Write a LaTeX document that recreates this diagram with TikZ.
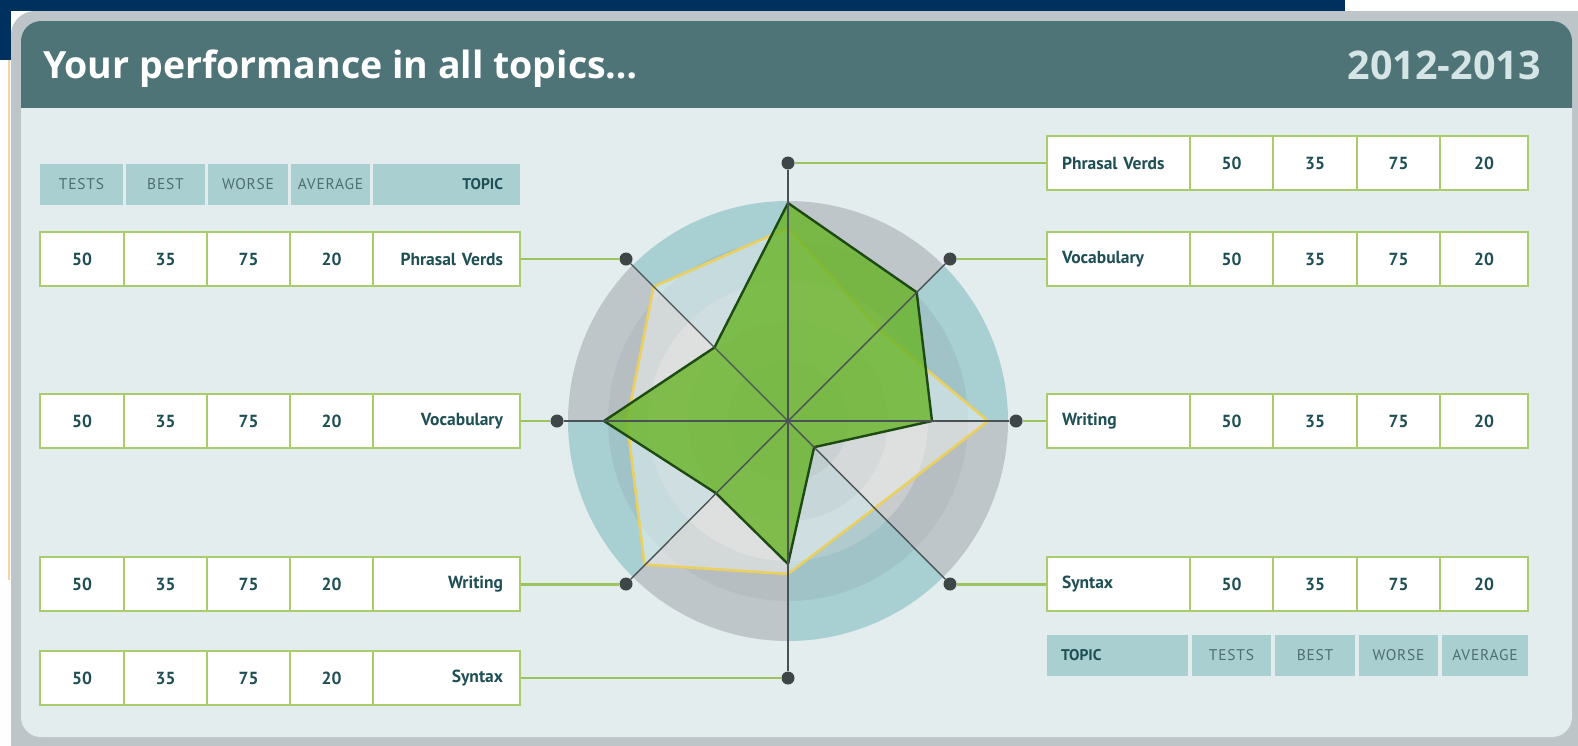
\documentclass[tikz,border=0pt]{standalone}
\usepackage{fontspec}
\setmainfont{PT Sans}
\newfontfamily\bannerfont{Open Sans}
\newfontfamily\spacedfont[LetterSpace=5]{PT Sans}
\definecolor{navy}{HTML}{00305E}
\definecolor{peach}{HTML}{F3D2A4}
\definecolor{framegray}{HTML}{BDC5C8}
\definecolor{panel}{HTML}{E4EDED}
\definecolor{headbar}{HTML}{4F7478}
\definecolor{yeartxt}{HTML}{D5E4E4}
\definecolor{headfill}{HTML}{A9CFD0}
\definecolor{headtxt}{HTML}{4E6F72}
\definecolor{darkteal}{HTML}{1E4F54}
\definecolor{cellline}{HTML}{A9CC6C}
\definecolor{linkgreen}{HTML}{9CC45C}
\definecolor{axisgray}{HTML}{4A5254}
\definecolor{ringAa}{HTML}{A8CFD2}
\definecolor{ringBa}{HTML}{BFC6C9}
\definecolor{ringAb}{HTML}{A0C3C7}
\definecolor{ringBb}{HTML}{B6BEC1}
\definecolor{ringAc}{HTML}{B0CACD}
\definecolor{ringBc}{HTML}{C8CCCC}
\definecolor{ringAd}{HTML}{A2BBBF}
\definecolor{ringBd}{HTML}{B9C1C2}
\definecolor{ringAe}{HTML}{97AEB2}
\definecolor{ringBe}{HTML}{A8B3B5}
\definecolor{scorefill}{RGB}{104,180,38}
\definecolor{scoreedge}{HTML}{1D4A12}
\definecolor{avgedge}{HTML}{E9D060}
\tikzset{
  banner/.style={inner sep=0pt, font=\bannerfont\bfseries\fontsize{37.5}{40}\selectfont},
  cell/.style={draw=cellline, line width=1.5pt, fill=white, minimum height=54pt, inner sep=0pt,
    text=darkteal, font=\bfseries\fontsize{17.5}{18}\selectfont},
  headcell/.style={fill=headfill, minimum height=41pt, inner sep=0pt, text=headtxt,
    font=\spacedfont\fontsize{15.5}{16}\selectfont},
  topichead/.style={text=darkteal, font=\bfseries\fontsize{15.5}{16}\selectfont},
  link/.style={linkgreen, line width=1.6pt},
  axis/.style={axisgray, line width=1.4pt},
  dot/.style={circle, fill=axisgray!85!black, inner sep=0pt, minimum size=13pt},
  score/.style={fill=scorefill, fill opacity=0.8, draw=scoreedge, line width=2.4pt, line join=round},
  average/.style={fill=white, fill opacity=0.4, draw=avgedge, line width=2.6pt, line join=round}
}
\begin{document}
\begin{tikzpicture}[x=1pt,y=-1pt]
\path[use as bounding box] (0,0) rectangle (1578,745);
\clip (0,0) rectangle (1578,745);
\fill[white] (0,0) rectangle (1578,745);
\fill[navy] (0,0) rectangle (1345,11);
\fill[navy] (0,0) rectangle (11,60);
\draw[peach, line width=2.5pt] (9,60) -- (9,580);
\fill[framegray, rounded corners=24pt] (11,11) rectangle (1600,770);
\fill[panel, rounded corners=20pt] (21,21) rectangle (1572,737);
\fill[headbar, rounded corners=20pt] (21,21) rectangle (1572,130);
\fill[panel] (21,108) rectangle (1572,140);
\node[banner, anchor=base west, text=white] (title) at (43,78) {Your performance in all topics…};
\node[banner, anchor=base east, text=yeartxt, font=\bannerfont\bfseries\fontsize{39.5}{42}\selectfont] (year) at (1541,79) {2012-2013};

\begin{scope}[shift={(788,421)}, y=1pt]
  \coordinate (ctr) at (0,0);
  \foreach \r/\ca/\cb in {220/ringAa/ringBa, 180/ringAb/ringBb, 140/ringAc/ringBc, 100/ringAd/ringBd, 60/ringAe/ringBe}
    \foreach \a in {0,90,180,270} {
      \fill[\ca] (0,0) -- (\a:\r) arc[start angle=\a, end angle=\a+45, radius=\r] -- cycle;
      \fill[\cb] (0,0) -- ({\a+45}:\r) arc[start angle=\a+45, end angle=\a+90, radius=\r] -- cycle;
    }
  \filldraw[average] (90:193) -- (45:129) -- (0:200) -- (-45:123) -- (-90:153) -- (-135:203) -- (180:161) -- (135:190) -- cycle;
  \filldraw[score] (90:218) -- (45:182) -- (0:144) -- (-45:37) -- (-90:143) -- (-135:102) -- (180:184) -- (135:104) -- cycle;
\end{scope}

\foreach \n/\x/\y in {dT/788/163, dUR/950/259, dR/1016/421, dLR/950/584, dB/788/678, dLL/626/584, dL/557/421, dUL/626/259}
  \node[dot] (\n) at (\x,\y) {};
\foreach \n in {dT, dUR, dR, dLR, dB, dLL, dL, dUL}
  \draw[axis] (ctr) -- (\n);

\foreach \x/\w/\t [count=\i] in {81.5/83/TESTS, 165.5/79/BEST, 248/80/WORSE, 330.5/79/AVERAGE}
  \node[headcell, minimum width=\w pt] (LH\i) at (\x,184) {\t};
\node[headcell, topichead, minimum width=147pt, text width=113pt, align=right] (LHt) at (446.5,184) {TOPIC};

\foreach \r/\y/\t in {1/259/Phrasal Verds, 2/421/Vocabulary, 3/584/Writing, 4/678/Syntax} {
  \foreach \x/\w/\v [count=\c] in {82/84/50, 165.5/83/35, 248.5/83/75, 331.5/83/20}
    \node[cell, minimum width=\w pt] (L\r-\c) at (\x,\y) {\v};
  \node[cell, minimum width=147pt, text width=113pt, align=right] (L\r-t) at (446.5,\y) {\t};
}

\foreach \r/\y/\t in {1/163/Phrasal Verds, 2/259/Vocabulary, 3/421/Writing, 4/584/Syntax} {
  \node[cell, minimum width=143pt, text width=113pt, align=left] (R\r-t) at (1118.5,\y) {\t};
  \foreach \x/\w/\v [count=\c] in {1231.5/83/50, 1315/84/35, 1398.5/83/75, 1484/88/20}
    \node[cell, minimum width=\w pt] (R\r-\c) at (\x,\y) {\v};
}

\node[headcell, topichead, minimum width=141pt, text width=113pt, align=left] (RHt) at (1117.5,655) {TOPIC};
\foreach \x/\w/\t [count=\i] in {1231.5/79/TESTS, 1315/80/BEST, 1398.5/79/WORSE, 1485/86/AVERAGE}
  \node[headcell, minimum width=\w pt] (RH\i) at (\x,655) {\t};

\draw[link] (L1-t) -- (dUL);
\draw[link] (L2-t) -- (dL);
\draw[link, line width=3pt] (L3-t) -- (dLL);
\draw[link] (L4-t) -- (dB);
\draw[link] (dT) -- (R1-t);
\draw[link] (dUR) -- (R2-t);
\draw[link] (dR) -- (R3-t);
\draw[link, line width=3pt] (dLR) -- (R4-t);
\end{tikzpicture}
\end{document}
